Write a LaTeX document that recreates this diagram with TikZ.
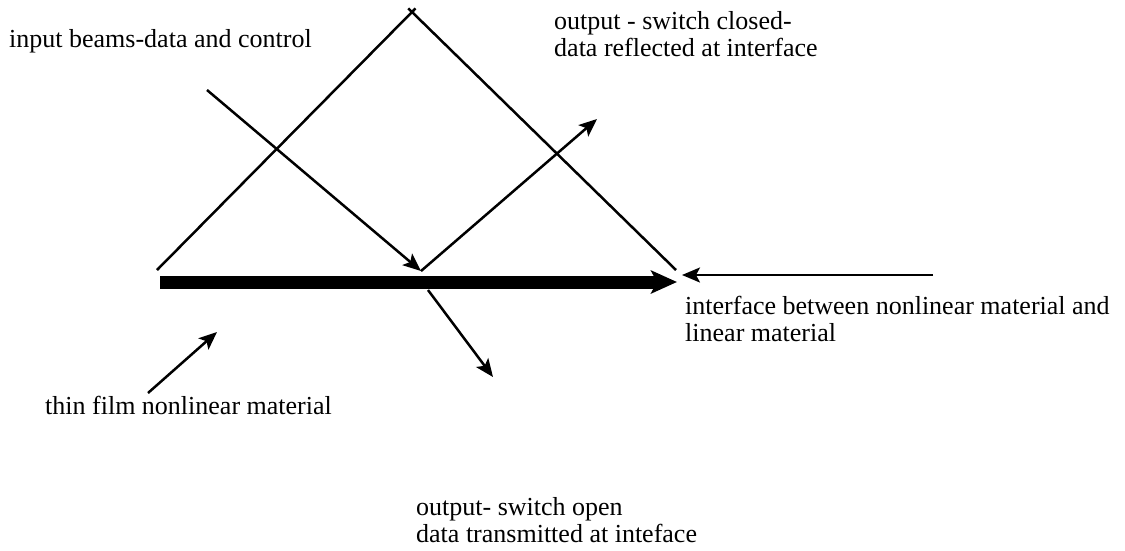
\documentclass[tikz,border=0pt]{standalone}
\usepackage{fontspec}
\setmainfont{Liberation Serif}
\usetikzlibrary{arrows.meta, positioning, calc}

\begin{document}
\begin{tikzpicture}[
    x=1pt, y=-1pt,
    caption/.style = {anchor=base west, inner sep=0pt, align=left,
                      font=\fontsize{26}{27}\selectfont},
    ray/.style = {line width=2.5pt},
    arrow/.style = {ray, -{Stealth[length=18pt, width=15pt, inset=4pt]}},
    film/.style = {line width=13pt, -{Stealth[length=26pt, width=23pt, inset=6pt]}}
]
\useasboundingbox (0,0) rectangle (1125,550);

% Key points of the prism and the interface
\coordinate (apex) at (412, 12);
\coordinate (baseL) at (157, 270);
\coordinate (baseR) at (676, 270);
\coordinate (hit) at (421, 271);
\coordinate (filmL) at (160, 282);
\coordinate (filmR) at (677, 282);

% Prism sides, slightly crossing at the top
\draw [ray] (baseL) -- ($(baseL)!1.014!(apex)$);
\draw [ray] (baseR) -- ($(baseR)!1.014!(apex)$);

% Thin film interface
\draw [film] (filmL) -- (filmR);

% Beams
\coordinate (inStart) at (207, 90);
\coordinate (reflEnd) at (597, 119);
\coordinate (transStart) at (428, 290);
\coordinate (transEnd) at (493, 377);
\draw [arrow] (inStart) -- (hit);
\draw [arrow] (hit) -- (reflEnd);
\draw [arrow] (transStart) -- (transEnd);

% Labels (base = baseline of the last line)
\node (inputlbl) [caption] at (9, 47) {input beams-data and control};
\node (reflectlbl) [caption] at (554, 56) {output - switch closed-\\data reflected at interface};
\node (interfacelbl) [caption] at (685, 341) {interface between nonlinear material and\\linear material};
\node (filmlbl) [caption] at (45, 414) {thin film nonlinear material};
\node (translbl) [caption] at (416, 542) {output- switch open\\data transmitted at inteface};

% Pointers to the labels
\coordinate (ifaceTail) at (933, 275);
\coordinate (ifaceTip) at (682, 275);
\coordinate (filmTail) at (148, 393);
\coordinate (filmTip) at (217, 332);
\draw [arrow] (ifaceTail) -- (ifaceTip);
\draw [arrow] (filmTail) -- (filmTip);

\end{tikzpicture}
\end{document}
